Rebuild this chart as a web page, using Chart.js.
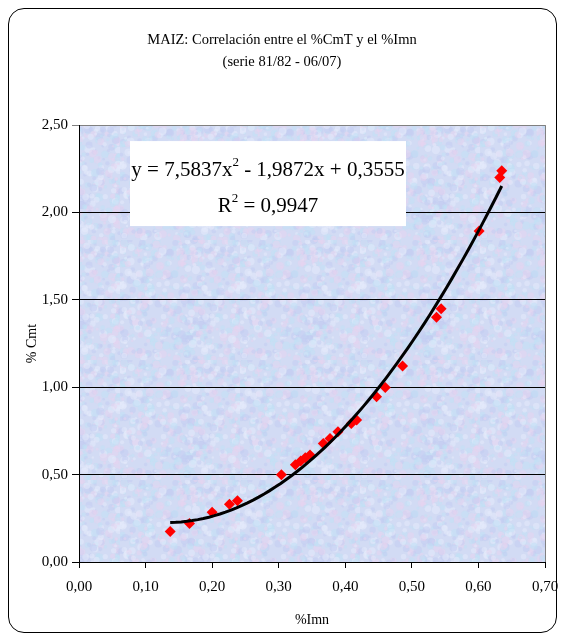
<!DOCTYPE html>
<html lang="es">
<head>
<meta charset="UTF-8">
<title>MAIZ: Correlación entre el %CmT y el %Imn</title>
<style>
  html, body { margin: 0; padding: 0; background: #fff; }
  #wrap { position: relative; width: 564px; height: 637px; }
  #frame { position: absolute; left: 8px; top: 8px; width: 547px; height: 623px;
           border: 1px solid #000; border-radius: 16px; pointer-events: none; }
  canvas { position: absolute; left: 0; top: 0; }
</style>
<script src="https://cdn.jsdelivr.net/npm/chart.js@4/dist/chart.umd.min.js"></script>
</head>
<body>
<div id="wrap">
  <canvas id="chart" width="564" height="637"></canvas>
  <div id="frame"></div>
</div>
<script>
// datos (campañas 81/82 - 06/07)
const imn = [0.137, 0.166, 0.200, 0.226, 0.238, 0.304, 0.325, 0.333, 0.340, 0.347, 0.367, 0.377,
             0.389, 0.409, 0.417, 0.447, 0.460, 0.486, 0.537, 0.544, 0.601, 0.632, 0.635];
const cmt = [0.175, 0.220, 0.284, 0.331, 0.350, 0.499, 0.557, 0.578, 0.597, 0.612, 0.678, 0.707,
             0.745, 0.793, 0.812, 0.945, 0.999, 1.122, 1.400, 1.449, 1.894, 2.200, 2.239];
// coeficientes de la linea de tendencia polinomica (a x^2 + b x + c)
const trendCoef = [7.5837, -1.9872, 0.3555];
const r2Text = '0,9947';

const serif = '"Liberation Serif", "Times New Roman", serif';
const fmt = v => v.toFixed(2).replace('.', ',');
const fmt4 = v => v.toFixed(4).replace('.', ',');

// curva de tendencia a partir de la ecuacion mostrada
const xMin = Math.min(...imn), xMax = Math.max(...imn);
const trend = [];
for (let i = 0; i <= 60; i++) {
  const x = xMin + (xMax - xMin) * i / 60;
  trend.push({ x: x, y: trendCoef[0] * x * x + trendCoef[1] * x + trendCoef[2] });
}

// textura de fondo (papel azul), pseudo-aleatorio determinista
function makeTexture(ctx) {
  const c = document.createElement('canvas');
  c.width = 120; c.height = 120;
  const g = c.getContext('2d');
  g.fillStyle = '#d2dbf4';
  g.fillRect(0, 0, 120, 120);
  let seed = 4242;
  const rnd = () => { seed = (seed * 1103515245 + 12345) % 2147483648; return seed / 2147483648; };
  const cols = ['rgba(232,212,240,0.5)', 'rgba(192,226,246,0.5)', 'rgba(194,204,242,0.5)', 'rgba(230,236,251,0.5)'];
  for (let i = 0; i < 650; i++) {
    g.fillStyle = cols[Math.floor(rnd() * cols.length)];
    g.beginPath();
    g.arc(rnd() * 120, rnd() * 120, 1.2 + rnd() * 3, 0, Math.PI * 2);
    g.fill();
  }
  return ctx.createPattern(c, 'repeat');
}

const plotBg = {
  id: 'plotBg',
  beforeDraw(chart) {
    const { ctx, chartArea: a } = chart;
    ctx.save();
    ctx.fillStyle = makeTexture(ctx);
    ctx.fillRect(a.left, a.top, a.right - a.left, a.bottom - a.top);
    ctx.restore();
  },
  afterDatasetsDraw(chart) {
    const { ctx, chartArea: a } = chart;
    ctx.save();
    // borde derecho gris del area de trazado
    ctx.strokeStyle = '#808080';
    ctx.lineWidth = 1;
    ctx.beginPath();
    ctx.moveTo(a.right + 0.5, a.top);
    ctx.lineTo(a.right + 0.5, a.bottom);
    ctx.stroke();

    // recuadro con la ecuacion
    const bx = a.left + 51, by = a.top + 16, bw = 276, bh = 85;
    ctx.fillStyle = '#fff';
    ctx.fillRect(bx, by, bw, bh);
    const cx = bx + bw / 2;
    const line = (parts, baseline) => {
      let w = 0;
      parts.forEach(p => { ctx.font = (p.sup ? 13 : 21) + 'px ' + serif; w += ctx.measureText(p.t).width; });
      let x = cx - w / 2;
      ctx.fillStyle = '#000';
      ctx.textBaseline = 'alphabetic';
      parts.forEach(p => {
        ctx.font = (p.sup ? 13 : 21) + 'px ' + serif;
        ctx.fillText(p.t, x, p.sup ? baseline - 10 : baseline);
        x += ctx.measureText(p.t).width;
      });
    };
    line([{ t: 'y = ' + fmt4(trendCoef[0]) + 'x' }, { t: '2', sup: true },
          { t: ' - ' + fmt4(-trendCoef[1]) + 'x + ' + fmt4(trendCoef[2]) }], by + 35);
    line([{ t: 'R' }, { t: '2', sup: true }, { t: ' = ' + r2Text }], by + 71);
    ctx.restore();
  }
};

new Chart(document.getElementById('chart'), {
  type: 'scatter',
  data: {
    datasets: [
      {
        type: 'line',
        data: trend,
        borderColor: '#000',
        borderWidth: 3,
        pointRadius: 0,
        tension: 0,
        fill: false,
        order: 0
      },
      {
        data: imn.map((x, i) => ({ x: x, y: cmt[i] })),
        pointStyle: 'rectRot',
        pointRadius: 5.5,
        backgroundColor: '#ff0000',
        borderColor: '#ff0000',
        borderWidth: 0,
        order: 1
      }
    ]
  },
  options: {
    responsive: false,
    animation: false,
    layout: { padding: 0 },
    plugins: {
      legend: { display: false },
      tooltip: { enabled: false },
      title: {
        display: true,
        text: ['MAIZ: Correlación entre el %CmT y el %Imn', '(serie 81/82 - 06/07)'],
        color: '#000',
        font: { family: serif, size: 14.5, weight: 'normal', lineHeight: 1.52 },
        padding: { top: 29, bottom: 52 }
      }
    },
    scales: {
      x: {
        type: 'linear',
        min: 0, max: 0.7,
        afterFit: s => { s.height = 75; s.paddingLeft = 0; s.paddingRight = 19; },
        ticks: { stepSize: 0.1, callback: fmt, color: '#000', padding: 10,
                 font: { family: serif, size: 15 }, maxRotation: 0 },
        grid: { drawOnChartArea: false, drawTicks: true, tickLength: 6, color: '#000' },
        border: { color: '#000', width: 1 },
        title: { display: true, text: '%Imn', color: '#000',
                 font: { family: serif, size: 14 }, padding: { top: 0, bottom: 8 } }
      },
      y: {
        min: 0, max: 2.5,
        afterFit: s => { s.width = 79; },
        ticks: { stepSize: 0.5, callback: fmt, color: '#000', padding: 4,
                 font: { family: serif, size: 15 } },
        grid: { color: ctx => ctx.tick && ctx.tick.value === 2.5 ? '#808080' : '#000',
                tickLength: 7, lineWidth: 1 },
        border: { color: '#000', width: 1 },
        title: { display: true, text: '% Cmt', color: '#000',
                 font: { family: serif, size: 14 }, padding: { top: 24, bottom: 0 } }
      }
    }
  },
  plugins: [plotBg]
});
</script>
</body>
</html>
